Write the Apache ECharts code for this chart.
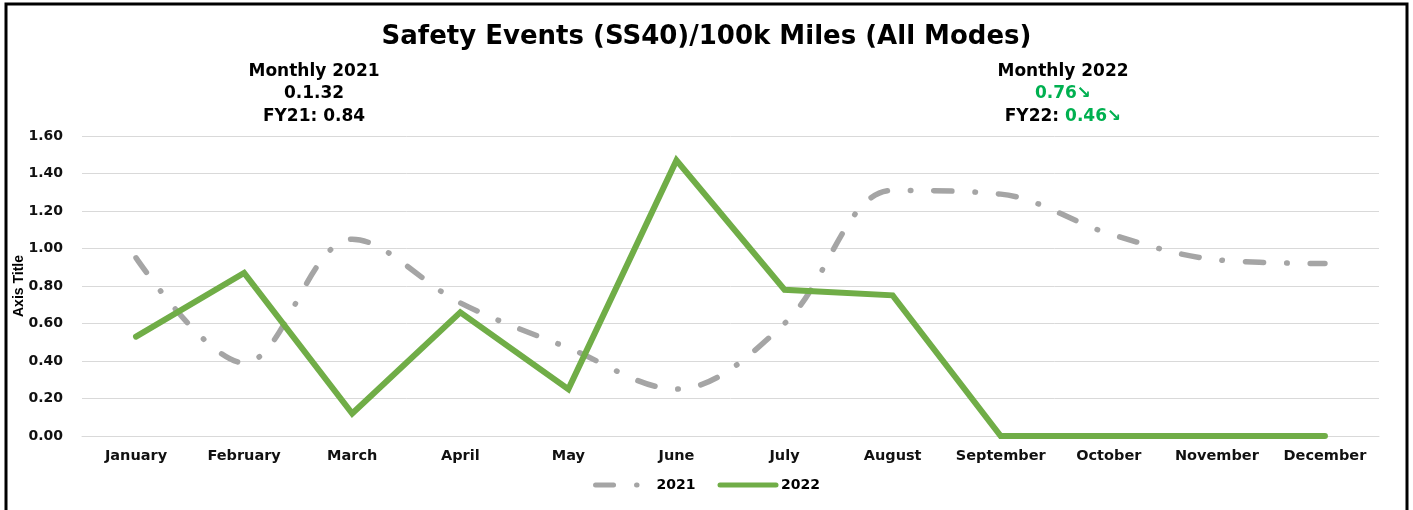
<!DOCTYPE html>
<html>
<head>
<meta charset="utf-8">
<script src="https://cdn.jsdelivr.net/npm/echarts@6/dist/echarts.min.js"></script>
<style>
  html, body { margin: 0; padding: 0; background: #ffffff; }
  #chart { width: 1413px; height: 510px; }
</style>
</head>
<body>
<div id="chart"></div>
<script>
const months = ['January', 'February', 'March', 'April', 'May', 'June', 'July', 'August', 'September', 'October', 'November', 'December']
const events2021 = [0.95, 0.39, 1.05, 0.71, 0.47, 0.25, 0.60, 1.31, 1.29, 1.08, 0.94, 0.92]
const events2022 = [0.53, 0.87, 0.12, 0.66, 0.25, 1.47, 0.78, 0.75, 0, 0, 0, 0]
const seriesNames = ['2021', '2022']
const yTicks = { min: 0, max: 1.6, interval: 0.2 }

const font = '"DejaVu Sans", Verdana, sans-serif'
const green = '#00B050'

const chart = echarts.init(document.getElementById('chart'))

const option = {
  backgroundColor: '#ffffff',
  animation: false,
  title: {
    text: 'Safety Events (SS40)/100k Miles (All Modes)',
    left: 'center',
    top: 19,
    textStyle: { fontFamily: font, fontSize: 26, fontWeight: 'bold', color: '#000' },
  },
  grid: { left: 82, right: 34, top: 136, bottom: 74, outerBoundsMode: 'none' },
  legend: {
    bottom: 13,
    left: 'center',
    itemWidth: 56,
    itemHeight: 8,
    itemGap: 22,
    itemStyle: { opacity: 0 },
    lineStyle: { width: 5, cap: 'round' },
    textStyle: { fontFamily: font, fontSize: 14, fontWeight: 'bold', color: '#000' },
    data: seriesNames,
  },
  xAxis: {
    type: 'category',
    data: months,
    boundaryGap: true,
    axisLine: { lineStyle: { color: '#D9D9D9', width: 1 } },
    axisTick: { show: false },
    axisLabel: { interval: 0, fontFamily: font, fontSize: 14.5, fontWeight: 'bold', color: '#111', margin: 13 },
  },
  yAxis: {
    type: 'value',
    min: yTicks.min,
    max: yTicks.max,
    interval: yTicks.interval,
    name: 'Axis Title',
    nameLocation: 'middle',
    nameGap: 56,
    nameMoveOverlap: false,
    nameTextStyle: { fontFamily: '"Liberation Sans Narrow", "Liberation Sans", sans-serif', fontSize: 14, fontWeight: 'bold', color: '#000' },
    axisLine: { show: false },
    axisTick: { show: false },
    splitLine: { lineStyle: { color: '#D9D9D9', width: 1 } },
    axisLabel: {
      fontFamily: font, fontSize: 14, fontWeight: 'bold', color: '#111', margin: 19,
      formatter: (v) => v.toFixed(2),
    },
  },
  series: [
    {
      name: seriesNames[0],
      type: 'line',
      data: events2021,
      symbol: 'none',
      smooth: 0.35,
      lineStyle: { color: '#A5A5A5', width: 5.5, type: [18, 23, 0.5, 23], cap: 'round' },
      itemStyle: { color: '#A5A5A5' },
      z: 2,
    },
    {
      name: seriesNames[1],
      type: 'line',
      data: events2022,
      symbol: 'none',
      lineStyle: { color: '#70AD47', width: 6, cap: 'round', join: 'miter' },
      itemStyle: { color: '#70AD47' },
      z: 3,
    },
  ],
  graphic: [
    {
      type: 'rect',
      shape: { x: 6, y: 4, width: 1401, height: 520 },
      style: { fill: 'none', stroke: '#000', lineWidth: 3 },
      silent: true,
    },
    {
      type: 'text',
      x: 314,
      y: 60,
      style: {
        text: 'Monthly 2021\n0.1.32\nFY21: 0.84',
        align: 'center',
        verticalAlign: 'top',
        fontFamily: font,
        fontSize: 17,
        fontWeight: 'bold',
        lineHeight: 22.5,
        fill: '#000',
      },
    },
    {
      type: 'text',
      x: 1063,
      y: 60,
      style: {
        text: '{b|Monthly 2022}\n{g|0.76↘}\n{b|FY22: }{g|0.46↘}',
        align: 'center',
        verticalAlign: 'top',
        fontFamily: font,
        fontSize: 17,
        fontWeight: 'bold',
        lineHeight: 22.5,
        rich: {
          b: { fontFamily: font, fontSize: 17, fontWeight: 'bold', fill: '#000', lineHeight: 22.5 },
          g: { fontFamily: font, fontSize: 17, fontWeight: 'bold', fill: green, lineHeight: 22.5 },
        },
      },
    },
  ],
}

chart.setOption(option)
</script>
</body>
</html>
